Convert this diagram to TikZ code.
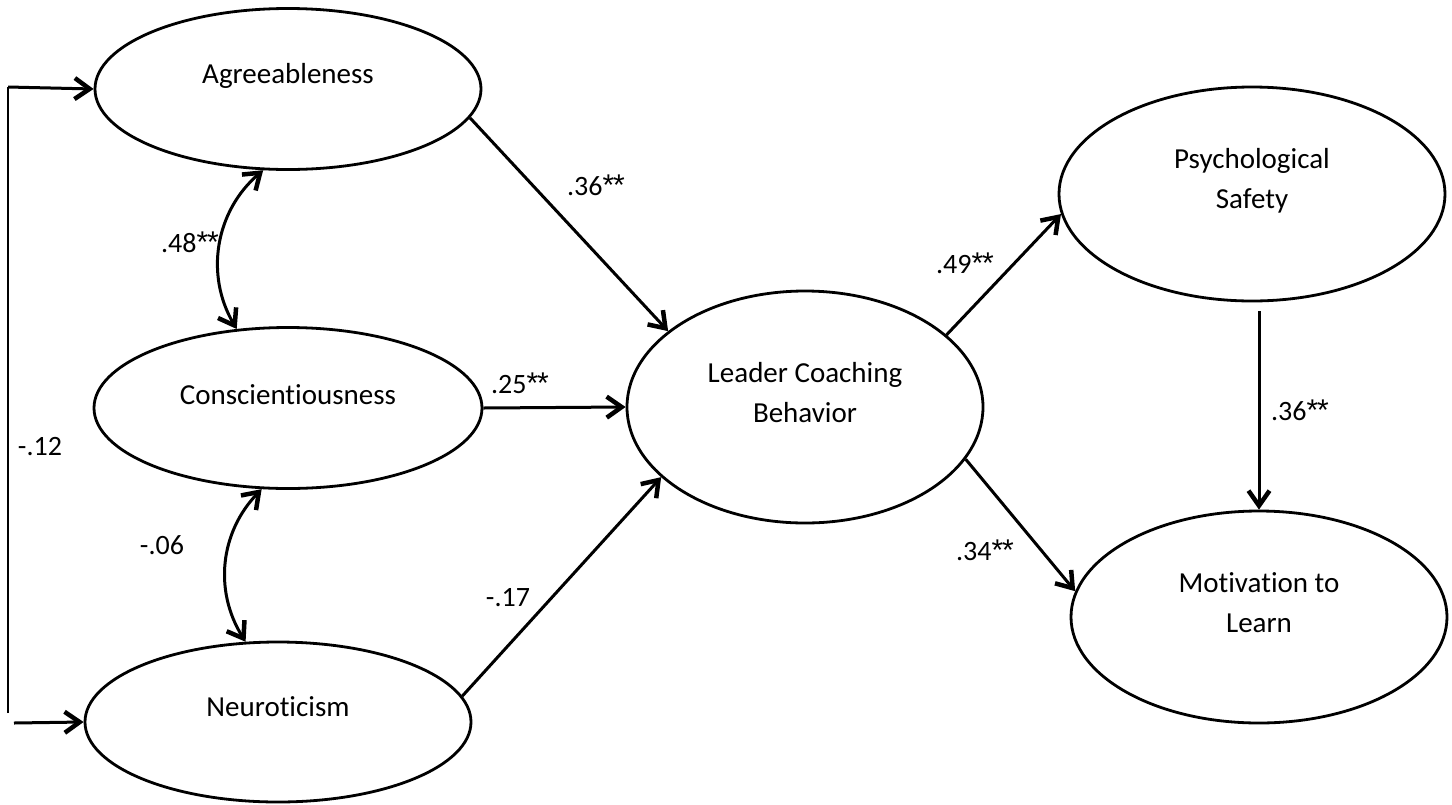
\documentclass[tikz,border=0pt]{standalone}
\usepackage{fontspec}
\setmainfont{Carlito}[Ligatures=NoCommon]
\newfontfamily\starfont{Liberation Sans}
\usetikzlibrary{shapes.geometric,arrows.meta}
\newcommand{\twostars}{{\starfont\fontsize{30}{30}\selectfont *\kern-1pt*}}
\begin{document}
\begin{tikzpicture}[x=1pt,y=-1pt,
  latent/.style={draw,ellipse,line width=2.8pt,inner sep=0pt},
  txt/.style={font=\fontsize{29}{40}\selectfont,align=center},
  coef/.style={font=\fontsize{28}{32}\selectfont},
  arr/.style={line width=3pt,-{Straight Barb[length=15pt,width=21pt,line width=4.5pt]}},
  darr/.style={line width=3pt,{Straight Barb[length=15pt,width=21pt,line width=4.5pt]}-{Straight Barb[length=15pt,width=21pt,line width=4.5pt]}},
  lin/.style={line width=2.6pt}]
\useasboundingbox (0,0) rectangle (1452,804);
\node[latent,minimum width=386pt,minimum height=161pt] (agr) at (288,89) {};
\node[txt] (agrt) at (288,76) {Agreeableness};
\node[latent,minimum width=388pt,minimum height=161pt] (con) at (288,408) {};
\node[txt] (cont) at (288,395) {Conscientiousness};
\node[latent,minimum width=386pt,minimum height=160pt] (neu) at (278,722) {};
\node[txt] (neut) at (278,707) {Neuroticism};
\node[latent,minimum width=356pt,minimum height=232pt] (lcb) at (805,407) {};
\node[txt] (lcbt) at (805,393) {Leader Coaching\\Behavior};
\node[latent,minimum width=386pt,minimum height=214pt] (psy) at (1252,194) {};
\node[txt] (psyt) at (1252,181) {Psychological\\Safety};
\node[latent,minimum width=376pt,minimum height=212pt] (mot) at (1259,617) {};
\node[txt] (mott) at (1259,603) {Motivation to\\Learn};

% exogenous bracket
\coordinate (bl) at (8,713);
\coordinate (bt) at (8,87);
\coordinate (bn) at (14,723);
\draw[lin] (bl) -- (bt);
\draw[arr] (bt) -- (agr.west);
\draw[arr] (bn) -- (neu.west);
\node[coef] (c12) at (40,447) {-.12};

% paths
\draw[arr] (agr.-9) -- (lcb.151.6);
\node[coef] (c36a) at (596,185) {.36\twostars};
\draw[arr] (con.east) -- (lcb.west);
\node[coef] (c25) at (520,383) {.25\twostars};
\draw[arr] (neu.8.9) -- (lcb.206.3);
\node[coef] (c17) at (508,598) {-.17};
\draw[arr] (lcb.27.6) -- (psy.186.2);
\node[coef] (c49) at (965,263) {.49\twostars};
\draw[arr] (lcb.-18.6) -- (mot.172.1);
\node[coef] (c34) at (985,550) {.34\twostars};
\draw[arr] ([yshift=-9pt]psy.south -| mot.north) -- (mot.north);
\node[coef] (c36b) at (1300,410) {.36\twostars};

% correlations
\draw[darr] (agr.-107) to[bend right=40] (con.123);
\node[coef] (c48) at (190,242) {.48\twostars};
\draw[darr] (con.-108) to[bend right=38] (neu.112);
\node[coef] (c06) at (162,545) {-.06};
\end{tikzpicture}
\end{document}
